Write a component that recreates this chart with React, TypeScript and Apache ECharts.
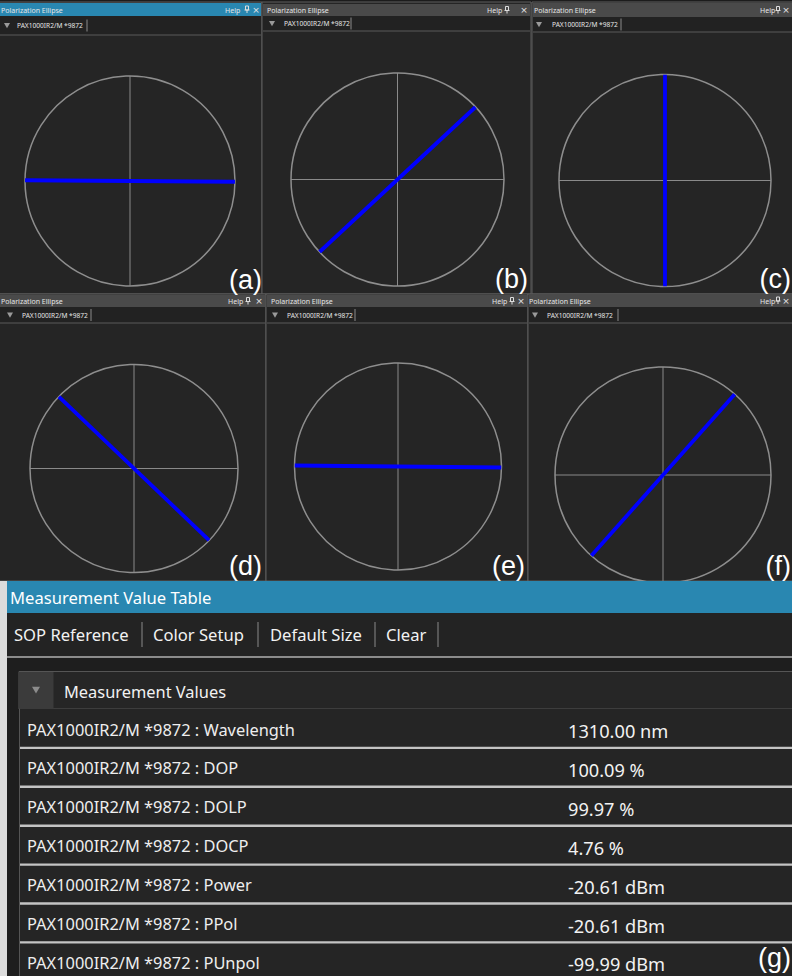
import React, { useEffect, useRef } from "react";
import * as echarts from "echarts";

// ---- data ----
const panelLabels = ["(a)", "(b)", "(c)", "(d)", "(e)", "(f)"];
// azimuth of the polarization ellipse major axis (degrees)
const azimuthDeg = [-0.4, 42.9, 90, -43.7, -0.55, 48.4];
const windowTitle = "Polarization Ellipse";
const deviceName = "PAX1000IR2/M *9872";
const toolbarItems = ["SOP Reference", "Color Setup", "Default Size", "Clear"];
const paramNames = ["Wavelength", "DOP", "DOLP", "DOCP", "Power", "PPol", "PUnpol"];
const paramValues = ["1310.00 nm", "100.09 %", "99.97 %", "4.76 %", "-20.61 dBm", "-20.61 dBm", "-99.99 dBm"];
const tableTitle = "Measurement Value Table";
const groupTitle = "Measurement Values";
const tableLabel = "(g)";

// ---- layout ----
const PANELS = [
  { l: -6, r: 262, t: 2, b: 294, tbT: 3, tbB: 16, sep: 35, active: true, titleX: 1, helpX: 225, pinX: 247, closeX: 256, triX: 7, devX: 17, barX: 87, cx: 130, cy: 181, rad: 105, labX: 262, labY: 280 },
  { l: 262, r: 531, t: 2, b: 294, tbT: 4, tbB: 16, sep: 31, active: false, titleX: 267, helpX: 487, pinX: 507, closeX: 524, triX: 272, devX: 284, barX: 351, cx: 397.5, cy: 179.5, rad: 106.5, labX: 528, labY: 279 },
  { l: 532, r: 800, t: 2, b: 294, tbT: 3, tbB: 17, sep: 32, active: false, titleX: 534, helpX: 760, pinX: 778, closeX: 786, triX: 539, devX: 552, barX: 621, cx: 665, cy: 180.5, rad: 106, labX: 791, labY: 279 },
  { l: -6, r: 266, t: 294, b: 581, tbT: 295, tbB: 307, sep: 323, active: false, titleX: 1, helpX: 228, pinX: 248, closeX: 259, triX: 10, devX: 22, barX: 91, cx: 134, cy: 468.5, rad: 104, labX: 262, labY: 566 },
  { l: 266, r: 528, t: 294, b: 581, tbT: 295, tbB: 307, sep: 323, active: false, titleX: 271, helpX: 492, pinX: 512, closeX: 521, triX: 275, devX: 287, barX: 355, cx: 398, cy: 466.5, rad: 103.5, labX: 525, labY: 566 },
  { l: 528, r: 800, t: 294, b: 581, tbT: 294, tbB: 307, sep: 323, active: false, titleX: 529, helpX: 760, pinX: 778, closeX: 786, triX: 535, devX: 547, barX: 618, cx: 663, cy: 475, rad: 108, labX: 791, labY: 566 },
];

const FONT = "'Noto Sans', 'Open Sans', sans-serif";
const BLUE = "#2987b1";

function norm(a: number) {
  let v = a % 360;
  if (v < 0) v += 360;
  return v;
}

function buildGraphics() {
  const els: any[] = [];
  const rect = (x: number, y: number, w: number, h: number, fill: string, z: number, stroke?: string) =>
    els.push({ type: "rect", silent: true, z, shape: { x, y, width: w, height: h }, style: { fill, stroke: stroke || null, lineWidth: stroke ? 1 : 0 } });
  const line = (x1: number, y1: number, x2: number, y2: number, color: string, w: number, z: number) =>
    els.push({ type: "line", silent: true, z, shape: { x1, y1, x2, y2 }, style: { stroke: color, lineWidth: w } });
  const text = (x: number, y: number, t: string, size: number, fill: string, z: number, align = "left", family = FONT) =>
    els.push({
      type: "text", silent: true, z, x, y,
      style: { text: t, fill, fontSize: size, fontFamily: family, textAlign: align, align, textVerticalAlign: "middle", verticalAlign: "middle" },
    });
  const tri = (cx: number, cy: number, w: number, color: string, z: number) =>
    els.push({ type: "polygon", silent: true, z, shape: { points: [[cx - w / 2, cy - w * 0.4], [cx + w / 2, cy - w * 0.4], [cx, cy + w * 0.45]] }, style: { fill: color } });

  // panels
  PANELS.forEach((p) => {
    rect(p.l, p.t, p.r - p.l, p.b - p.t, "#252525", -20, "#5e5e5e");
    rect(p.l + 1, p.tbT, p.r - p.l - 2, p.tbB - p.tbT, p.active ? BLUE : "#4a4a4a", -19);
    rect(p.l + 1, p.tbB, p.r - p.l - 2, p.sep - p.tbB, "#222222", -19);
    line(p.l + 1, p.sep, p.r - 1, p.sep, "#5a5a5a", 1, -18);
    const ty = (p.tbT + p.tbB) / 2;
    text(p.titleX, ty + 0.5, windowTitle, 7, "#e6e6e6", -17);
    text(p.helpX, ty + 0.5, "Help", 7, "#e6e6e6", -17);
    // pin icon
    rect(p.pinX - 1.5, ty - 3.5, 3, 4, "none", -17, "#dddddd");
    line(p.pinX, ty + 0.5, p.pinX, ty + 3.5, "#dddddd", 1, -17);
    line(p.pinX - 2.5, ty + 0.5, p.pinX + 2.5, ty + 0.5, "#dddddd", 1, -17);
    text(p.closeX, ty, "×", 9, "#e6e6e6", -17, "center", "'DejaVu Sans', sans-serif");
    const by = (p.tbB + p.sep) / 2;
    tri(p.triX, by, 6, "#9a9a9a", -17);
    text(p.devX, by, deviceName, 6.6, "#e6e6e6", -17);
    line(p.barX, by - 6, p.barX, by + 6, "#8a8a8a", 1, -17);
  });

  // table area
  rect(0, 581, 8, 395, "#dcdcdc", 10);
  rect(7, 581, 792 - 7, 32, BLUE, 10);
  text(10, 597, tableTitle, 16.6, "#ffffff", 11);
  rect(7, 613, 792 - 7, 43, "#232323", 10);
  const tbX = [14, 153, 270, 386];
  const sepX = [142, 258, 375, 438];
  toolbarItems.forEach((t, i) => {
    text(tbX[i], 634, t, 16.6, "#f2f2f2", 11);
    line(sepX[i], 622, sepX[i], 647, "#8a8a8a", 1, 11);
  });
  rect(7, 656, 792 - 7, 2, "#8c8c8c", 10);
  rect(7, 658, 792 - 7, 318, "#1e1e1e", 10);
  // group header
  rect(19, 671.5, 780, 37.5, "#262626", 11, "#555555");
  rect(19.5, 672, 34, 36.5, "#3b3b3b", 12);
  tri(36, 690, 8, "#8c8c8c", 13);
  text(64, 691, groupTitle, 16.4, "#f2f2f2", 13);
  // rows
  const rowTop = 709;
  const rowH = 38.9;
  paramNames.forEach((n, i) => {
    const y0 = rowTop + i * rowH;
    rect(19, y0, 780, rowH, "#252525", 11);
    text(27, y0 + 20, deviceName + " : " + n, 16.4, "#eeeeee", 13);
    text(568, y0 + 22, paramValues[i], 18.2, "#f2f2f2", 13);
    if (i < paramNames.length - 1) rect(19, y0 + rowH - 1.2, 780, 2.4, "#c4c4c4", 12);
  });
  line(19.5, 709, 19.5, 976, "#555555", 1, 12);

  // panel labels
  PANELS.forEach((p, i) => {
    text(p.labX, p.labY, panelLabels[i], 27, "#ffffff", 30, "right", "'Liberation Sans', Arial, sans-serif");
  });
  text(791, 958, tableLabel, 27, "#ffffff", 30, "right", "'Liberation Sans', Arial, sans-serif");
  return els;
}

export default function App() {
  const ref = useRef<HTMLDivElement>(null);
  useEffect(() => {
    if (!ref.current) return;
    const chart = echarts.init(ref.current, null, { renderer: "svg" });
    const option: any = {
      animation: false,
      backgroundColor: "#1c1c1c",
      polar: PANELS.map((p) => ({ center: [p.cx, p.cy], radius: p.rad })),
      angleAxis: PANELS.map((_, i) => ({
        polarIndex: i,
        type: "value",
        min: 0,
        max: 360,
        interval: 90,
        startAngle: 0,
        clockwise: false,
        axisLine: { show: true, lineStyle: { color: "#8e8e8e", width: 1.5 } },
        axisTick: { show: false },
        axisLabel: { show: false },
        splitLine: { show: true, lineStyle: { color: "#8a8a8a", width: 1 } },
      })),
      radiusAxis: PANELS.map((_, i) => ({
        polarIndex: i,
        type: "value",
        min: 0,
        max: 1,
        axisLine: { show: false },
        axisTick: { show: false },
        axisLabel: { show: false },
        splitLine: { show: false },
      })),
      series: azimuthDeg.map((a, i) => ({
        type: "line",
        coordinateSystem: "polar",
        polarIndex: i,
        silent: true,
        symbol: "none",
        data: [
          [1, norm(a)],
          [1, norm(a + 180)],
        ],
        lineStyle: { color: "#0000ff", width: 3.8 },
        z: 3,
      })),
      graphic: { elements: buildGraphics() },
    };
    chart.setOption(option);
    return () => chart.dispose();
  }, []);
  return (
    <div style={{ position: "absolute", left: 0, top: 0, width: 792, height: 976, overflow: "hidden" }}>
      <div ref={ref} style={{ width: 792, height: 976 }} />
    </div>
  );
}
